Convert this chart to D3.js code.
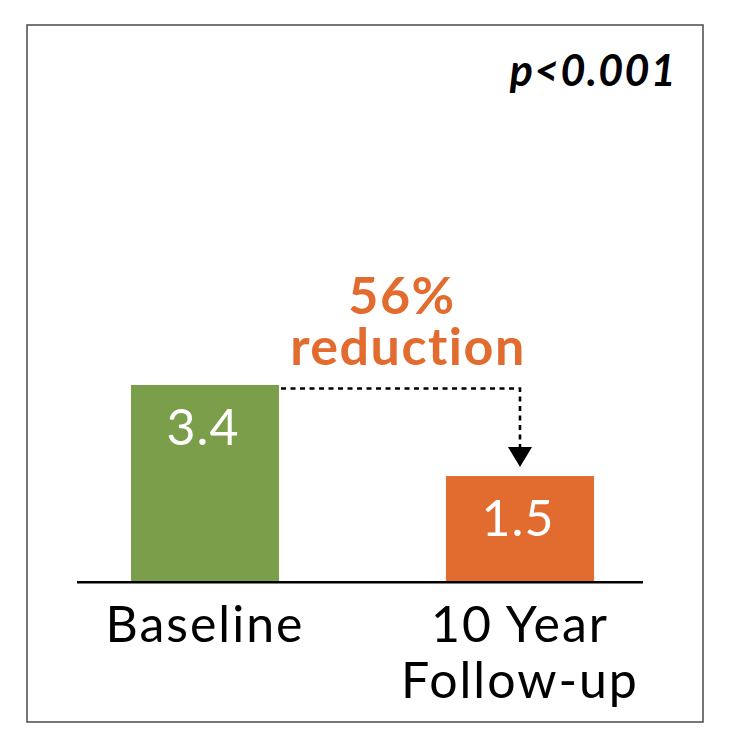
<!DOCTYPE html>
<html>
<head>
<meta charset="utf-8">
<script src="https://cdn.jsdelivr.net/npm/d3@7"></script>
<style>
  html, body { margin: 0; padding: 0; background: #fff; }
  svg text { font-family: Lato, "Open Sans", sans-serif; }
</style>
</head>
<body>
<script>
// ---- data ----
const categories = ["Baseline", "10 Year Follow-up"];
const categoryLines = [["Baseline"], ["10 Year", "Follow-up"]];
const values = [3.4, 1.5];
const valueLabels = ["3.4", "1.5"];
const barColors = ["#7B9E4B", "#E26C2F"];
const annotationLines = ["56%", "reduction"];
const pValueText = "p<0.001";

const W = 729, H = 747;
const svg = d3.select("body").append("svg").attr("width", W).attr("height", H);

// frame
svg.append("rect").attr("x", 27).attr("y", 25).attr("width", 676).attr("height", 697)
  .attr("fill", "none").attr("stroke", "#4a4a4a").attr("stroke-width", 1.5);

const baseY = 581;
const x = d3.scaleBand().domain(categories).range([79, 646]).paddingInner(0.53).paddingOuter(0.165);
const y = d3.scaleLinear().domain([-0.69, 3.4]).range([baseY, 385]);

// bars
svg.selectAll("rect.bar").data(values).enter().append("rect").attr("class", "bar")
  .attr("x", (d, i) => x(categories[i]))
  .attr("width", x.bandwidth())
  .attr("y", d => y(d))
  .attr("height", d => baseY - y(d))
  .attr("fill", (d, i) => barColors[i]);

// value labels
svg.selectAll("text.val").data(values).enter().append("text").attr("class", "val")
  .attr("x", (d, i) => x(categories[i]) + x.bandwidth() / 2 - 2)
  .attr("y", d => y(d) + 60)
  .attr("text-anchor", "middle").attr("fill", "#fff")
  .attr("font-size", 50).attr("font-weight", 400).attr("letter-spacing", 1)
  .text((d, i) => valueLabels[i]);

// baseline axis line
svg.append("line").attr("x1", 77).attr("x2", 643).attr("y1", baseY + 1.2).attr("y2", baseY + 1.2)
  .attr("stroke", "#000").attr("stroke-width", 2.6);

// category labels
categories.forEach((c, i) => {
  const lines = categoryLines[i];
  const cx = x(c) + x.bandwidth() / 2;
  const t = svg.append("text")
    .attr("text-anchor", "middle").attr("fill", "#000")
    .attr("font-size", 50).attr("font-weight", 400).attr("letter-spacing", 2);
  lines.forEach((l, j) => {
    t.append("tspan").attr("x", cx).attr("y", 642 + j * 56).text(l);
  });
});

// dotted connector + arrow
const cx2 = x(categories[1]) + x.bandwidth() / 2;
const lineY = y(values[0]) + 3.5;
const tipY = y(values[1]) - 9;
svg.append("path")
  .attr("d", `M${x(categories[0]) + x.bandwidth() + 2},${lineY} H${cx2} V${tipY - 20}`)
  .attr("fill", "none").attr("stroke", "#000").attr("stroke-width", 2.6)
  .attr("stroke-dasharray", "5,4.5");
svg.append("path")
  .attr("d", `M${cx2 - 12},${tipY - 20} L${cx2 + 12},${tipY - 20} L${cx2},${tipY} Z`)
  .attr("fill", "#000");

// annotation
annotationLines.forEach((l, j) => {
  svg.append("text").attr("text-anchor", "middle").attr("fill", "#E26C2F")
    .attr("font-size", 52).attr("font-weight", 700).attr("letter-spacing", 1.5)
    .attr("x", j === 0 ? 402 : 408).attr("y", 314 + j * 51).text(l);
});

// p-value
svg.append("text").attr("x", 677).attr("y", 86).attr("text-anchor", "end")
  .attr("font-size", 43).attr("font-weight", 700).attr("font-style", "italic")
  .attr("letter-spacing", 1.3)
  .attr("fill", "#000").text(pValueText);
</script>
</body>
</html>
